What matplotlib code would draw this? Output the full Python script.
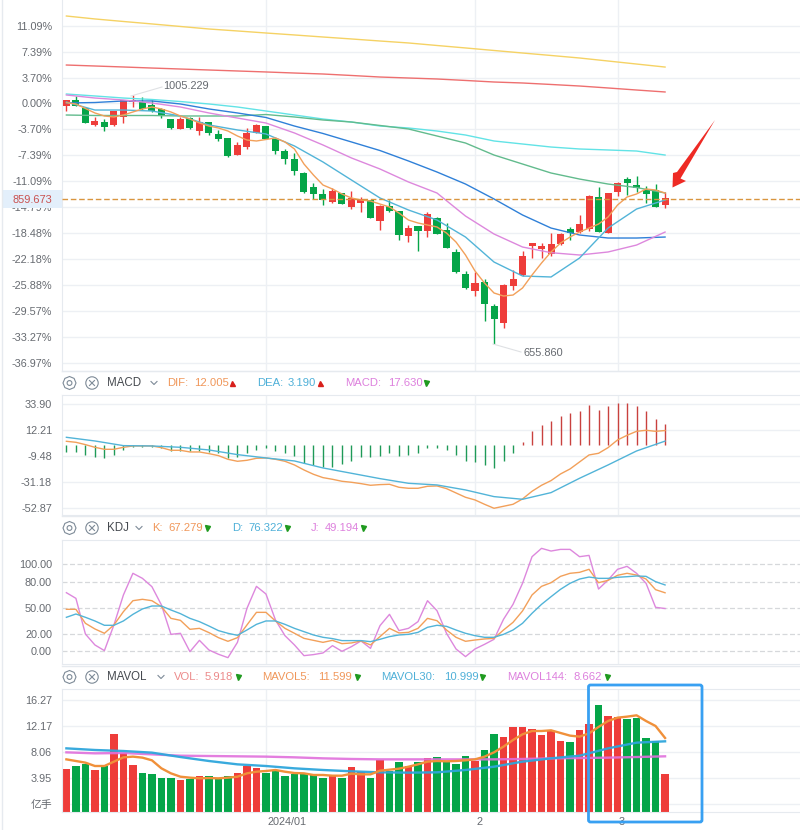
#!/usr/bin/env python3
"""Index candlestick chart with MACD, KDJ and MAVOL panels."""

import matplotlib
matplotlib.use('Agg')
# pylint: disable=wrong-import-position
import matplotlib.pyplot as plt
from matplotlib.patches import Circle, FancyBboxPatch, Polygon, Rectangle, RegularPolygon

plt.rcParams['font.family'] = ['Liberation Sans', 'Noto Sans CJK SC', 'DejaVu Sans']

OPENS = [-.31, .50, -.68, -3.02, -2.64, -3.06, -1.88, .17, .26, -.26, -.83, -2.25, -3.63, -2.07, -3.87, -2.68,
         -4.34, -4.96, -7.29, -6.24, -4.20, -3.21, -5.10, -6.72, -7.91, -9.86, -11.94, -12.89, -13.99, -12.79,
         -14.74, -14.17, -13.75, -16.69, -14.64, -15.27, -18.87, -17.45, -18.12, -16.31, -18.02, -21.20, -24.29,
         -26.67, -25.43, -28.85, -31.23, -26.00, -24.43, -20.30, -20.68, -21.44, -20.01, -17.92, -18.30, -17.92,
         -13.36, -18.40, -12.61, -10.76, -11.61, -12.32, -12.36, -14.42]
CLOSES = [.50, -.31, -2.74, -2.45, -3.35, -1.07, .50, .50, -.78, -1.07, -1.78, -3.53, -2.25, -3.49, -2.68, -4.25,
          -5.06, -7.48, -5.95, -4.16, -3.06, -5.10, -6.72, -7.86, -9.62, -12.61, -12.89, -13.75, -12.46, -14.32,
          -13.50, -13.65, -16.27, -14.60, -15.31, -18.73, -17.73, -18.12, -15.78, -18.59, -20.54, -24.00, -26.28,
          -25.57, -28.52, -30.70, -25.86, -25.00, -21.72, -19.87, -20.30, -20.01, -18.59, -18.49, -17.17, -13.18,
          -18.26, -12.79, -11.37, -11.28, -11.99, -12.85, -14.70, -13.50]
HIGHS = [.50, 1.11, -.68, -1.97, -2.25, -1.07, .50, 1.21, .88, .50, -.68, -2.25, -1.88, -1.88, -1.97, -2.68,
         -3.77, -4.96, -5.53, -3.53, -2.92, -3.21, -4.91, -6.52, -7.09, -9.72, -11.28, -12.18, -12.08, -12.75,
         -12.46, -13.36, -13.75, -14.46, -13.75, -15.27, -17.31, -17.45, -15.46, -16.21, -16.98, -20.77, -23.90,
         -24.00, -25.04, -28.56, -25.71, -23.72, -21.01, -19.87, -19.91, -18.49, -18.40, -17.64, -15.88, -13.08,
         -11.94, -12.79, -11.14, -10.51, -10.33, -11.75, -11.51, -12.65]
LOWS = [-1.03, -.31, -2.74, -3.16, -3.87, -3.16, -2.74, -.46, -.93, -1.25, -2.02, -3.63, -3.63, -3.63, -4.49, -4.49,
        -5.34, -7.58, -7.34, -6.48, -4.25, -5.10, -7.19, -8.62, -10.19, -12.79, -13.65, -14.46, -14.13, -14.32,
        -15.03, -15.41, -16.27, -18.02, -15.46, -19.44, -19.73, -20.97, -18.97, -18.63, -20.54, -24.10, -26.38,
        -27.38, -30.94, -34.26, -31.94, -26.57, -24.53, -21.97, -21.97, -21.68, -20.11, -19.44, -18.49, -18.12,
        -18.26, -18.40, -13.18, -13.03, -12.65, -14.13, -14.70, -14.84]
LAST_PRICE = -13.60

MA5 = [.11, -.07, -.71, -1.35, -1.78, -1.92, -1.64, -1.21, -.78, -.50, -.78, -1.21, -1.78, -2.21, -2.78, -3.21,
       -3.49, -3.92, -4.63, -5.20, -5.34, -5.13, -4.91, -5.48, -6.48, -8.62, -10.19, -11.61, -12.18, -12.89,
       -13.46, -13.75, -13.89, -14.32, -14.74, -15.60, -16.60, -17.02, -17.31, -17.59, -18.45, -19.73, -21.58,
       -23.86, -25.57, -26.99, -27.42, -27.28, -26.28, -24.43, -22.72, -21.15, -19.87, -19.02, -18.30, -17.74,
       -17.17, -16.17, -14.46, -13.32, -12.89, -12.18, -12.32, -12.75]

MA_IDX = list(range(0, 64, 3))
MA10 = [.21, -.93, -.93, -1.07, -1.78, -3.06, -3.77, -4.34, -6.05, -8.33, -10.90, -13.46, -15.17, -16.60,
        -19.02, -22.58, -24.57, -24.71, -22.01, -17.74, -15.03, -13.75]
MA20 = [1.21, .78, .50, .07, -.50, -1.35, -2.07, -2.78, -4.20, -5.91, -7.76, -9.33, -11.18, -12.75, -16.03,
        -18.59, -20.44, -21.25, -21.58, -21.15, -20.16, -18.31]
MA30 = [.07, .14, .36, .36, -.07, -.78, -1.35, -1.99, -3.21, -4.27, -5.48, -6.70, -8.19, -9.76, -11.47, -13.60,
        -15.88, -17.74, -18.73, -19.16, -19.16, -19.02]
MA60 = [-1.64, -1.71, -1.71, -1.71, -1.78, -1.78, -1.78, -1.57, -1.92, -2.35, -2.64, -3.13, -3.63, -4.63, -5.63,
        -7.34, -8.62, -9.90, -10.76, -11.47, -11.97, -12.75]
MA120 = [1.35, 1.07, .78, .57, .28, -.07, -.50, -1.07, -1.64, -2.21, -2.64, -3.21, -3.49, -3.92, -4.49, -5.34,
         -5.77, -6.20, -6.48, -6.62, -6.77, -7.34]
MA250 = [5.48, 5.34, 5.20, 5.05, 4.91, 4.77, 4.63, 4.49, 4.34, 4.20, 3.99, 3.77, 3.63, 3.49, 3.28, 3.06, 2.92,
         2.71, 2.49, 2.21, 1.92, 1.64]
MA500 = [12.46, 12.04, 11.68, 11.33, 10.97, 10.61, 10.33, 10.04, 9.76, 9.47, 9.19, 8.90, 8.62, 8.26, 7.91, 7.55,
         7.19, 6.84, 6.48, 6.05, 5.62, 5.19]

MACD_HIST = [-6.1, -6.1, -8.6, -10.3, -11.1, -8.6, -4.4, -1.9, -1.9, -1.9, -2.8, -5.3, -5.3, -5.3, -5.3, -5.8,
             -7.0, -11.1, -10.3, -7.0, -3.9, -2.8, -4.7, -7.0, -9.5, -15.0, -16.7, -18.3, -18.3, -16.1, -13.6,
             -9.7, -9.7, -8.9, -7.0, -9.5, -8.6, -7.0, -2.8, -2.8, -4.4, -8.6, -13.6, -14.5, -17.0, -19.5, -13.6,
             -7.0, 2.8, 11.7, 16.7, 20.0, 24.2, 26.7, 28.4, 33.4, 29.2, 32.5, 35.0, 35.0, 32.5, 28.4, 21.7, 17.6]
DIF = [3.04, 2.20, .26, -1.97, -3.64, -3.64, -1.97, -.86, -.86, -.86, -2.25, -4.47, -4.47, -5.86, -5.86, -7.25,
       -8.92, -11.98, -13.64, -12.81, -11.14, -10.86, -11.98, -13.64, -16.70, -20.87, -24.49, -27.27, -28.66,
       -30.32, -31.16, -32.27, -33.66, -33.10, -32.83, -35.33, -36.16, -36.16, -34.49, -34.22, -36.44, -40.05,
       -43.67, -45.89, -49.51, -52.84, -51.17, -49.51, -45.06, -38.66, -33.66, -29.77, -24.21, -20.04, -14.20,
       -8.36, -6.97, -2.25, 4.15, 8.04, 11.38, 12.21, 11.38, 12.005]
DEA = [6.37, 3.31, -.58, -.86, -1.97, -4.19, -8.08, -10.86, -13.37, -19.20, -23.65, -28.10, -32.00, -33.38,
       -37.55, -43.11, -45.34, -39.78, -27.82, -16.70, -5.03, 3.19]

KDJ_K = [48.3, 48.3, 32.2, 25.7, 20.7, 30.3, 45.6, 58.2, 59.8, 58.2, 51.3, 37.9, 35.6, 25.3, 26.4, 21.5, 15.7,
         11.5, 15.7, 30.3, 44.8, 44.8, 34.9, 26.4, 20.7, 14.9, 12.6, 10.3, 12.6, 8.8, 9.6, 11.9, 7.3, 16.9, 26.4,
         21.1, 21.8, 26.4, 37.9, 35.2, 24.5, 16.1, 11.5, 13.0, 14.2, 14.9, 24.5, 33.3, 46.4, 64.8, 74.7, 78.9,
         86.2, 89.7, 90.8, 94.3, 78.9, 81.6, 87.4, 89.7, 87.7, 83.1, 70.9, 67.3]
KDJ_D = [39.1, 42.9, 39.1, 34.9, 29.9, 29.9, 34.9, 42.5, 48.7, 52.1, 52.1, 47.5, 43.3, 37.9, 34.1, 29.1, 23.8,
         20.7, 18.4, 24.5, 31.0, 34.9, 34.9, 31.0, 26.4, 22.6, 18.8, 16.1, 14.6, 12.3, 12.3, 12.3, 11.1, 13.8,
         16.9, 18.8, 19.5, 21.8, 27.6, 29.9, 28.7, 24.5, 20.7, 18.0, 16.1, 16.1, 19.5, 24.5, 32.2, 43.7, 54.0,
         62.8, 71.3, 78.2, 83.1, 85.4, 83.9, 83.9, 85.1, 85.8, 86.6, 86.2, 80.1, 76.3]
KDJ_J = [67.4, 60.9, 19.9, 7.3, .8, 30.3, 64.8, 89.7, 83.9, 74.3, 53.3, 19.5, 20.7, -.4, 12.6, 1.5, -3.4, -7.3,
         10.3, 49.4, 74.7, 65.9, 36.0, 18.0, 7.3, -5.0, -3.8, -1.9, 6.5, 0.0, 5.4, 11.9, 3.4, 29.5, 42.5, 23.8,
         26.4, 34.1, 58.2, 46.7, 20.7, 2.7, -6.1, 2.7, 8.0, 13.8, 36.8, 54.0, 78.2, 108.8, 118.4, 115.3, 117.2,
         117.2, 108.8, 110.3, 71.6, 82.0, 94.3, 97.7, 89.7, 78.2, 50.6, 49.2]

VOLUME = [5.48, 5.85, 6.16, 5.21, 5.90, 10.91, 7.90, 6.01, 4.74, 4.58, 3.95, 4.06, 3.63, 3.79, 4.27, 4.27, 3.79,
          4.27, 4.74, 5.95, 5.64, 4.85, 5.11, 4.27, 4.58, 4.74, 4.58, 3.95, 4.27, 3.95, 5.69, 4.90, 3.95, 6.85,
          5.16, 6.59, 5.90, 6.59, 7.11, 7.27, 6.59, 6.16, 7.43, 6.74, 8.38, 10.91, 10.54, 12.01, 12.01, 11.70,
          10.75, 11.38, 9.80, 9.64, 11.54, 12.49, 15.49, 13.75, 13.59, 13.28, 13.44, 10.27, 9.80, 4.58]
MAVOL5 = [6.95, 6.69, 6.43, 5.90, 5.90, 6.59, 7.27, 7.38, 7.22, 6.80, 5.53, 4.74, 4.21, 4.06, 3.95, 4.00, 3.95,
          4.06, 4.21, 4.74, 5.00, 5.11, 5.27, 5.00, 4.79, 4.74, 4.48, 4.48, 4.37, 4.37, 4.69, 4.58, 4.58, 5.16,
          5.32, 5.48, 5.79, 6.16, 6.59, 6.69, 6.64, 6.69, 6.80, 6.95, 7.38, 8.06, 8.96, 10.01, 10.91, 11.43,
          11.43, 11.54, 11.12, 10.70, 10.54, 11.06, 12.07, 13.01, 13.54, 13.70, 13.91, 13.01, 12.22, 10.33]
MAVOL30 = [8.69, 8.43, 8.27, 8.01, 7.32, 6.69, 6.16, 5.90, 5.53, 5.27, 5.06, 4.90, 4.85, 4.90, 5.27, 5.79, 6.59,
           7.11, 7.53, 8.69, 9.59, 9.80]
MAVOL144 = [8.06, 7.90, 7.95, 7.74, 7.53, 7.48, 7.43, 7.38, 7.27, 7.11, 7.01, 6.95, 6.95, 6.95, 6.95, 6.95, 7.01,
            7.11, 7.16, 7.22, 7.32, 7.43]

PRICE_TICKS = [11.09, 7.39, 3.70, 0.00, -3.70, -7.39, -11.09, -14.79, -18.48, -22.18, -25.88, -29.57, -33.27,
               -36.97]
MACD_TICKS = [33.90, 12.21, -9.48, -31.18, -52.87]
KDJ_TICKS = [100.00, 80.00, 50.00, 20.00, 0.00]
VOL_TICKS = [16.27, 12.17, 8.06, 3.95, -0.16]
VOL_TICK_LABELS = ['16.27', '12.17', '8.06', '3.95', '亿手']
MONTH_IDX = [21, 43, 58]
MONTH_LABELS = ['2024/01', '2', '3']

RED = '#ee3d3a'
GREEN = '#05a548'
ORANGE = '#f2a05a'
SKY = '#52b4d8'
PINK = '#dd88dd'
GRID = '#edf0f4'
EDGE = '#e6eaef'
TEXT = '#666a70'
WIDTH = 800
HEIGHT = 830
XLIM = (-0.463, 77.2)


def add_panel(figure, top, bottom, ylim, ticks, labels):
    """Adds one panel, placed by its pixel rows."""
    axis = figure.add_axes([62 / WIDTH, 1 - bottom / HEIGHT, (WIDTH - 62) / WIDTH, (bottom - top) / HEIGHT])
    axis.set_xlim(*XLIM)
    axis.set_ylim(*ylim)
    axis.set_yticks(ticks)
    axis.set_yticklabels(labels, fontsize=7.8, color=TEXT)
    axis.tick_params(axis='y', length=0, pad=7.2)
    axis.set_xticks(MONTH_IDX)
    axis.tick_params(axis='x', length=0, labelbottom=False)
    axis.grid(True, color=GRID, linewidth=1.0)
    axis.set_axisbelow(True)
    for side in axis.spines.values():
        side.set_color(EDGE)
    axis.spines['right'].set_visible(False)
    return axis


def draw_header(over, row, name, name_x, chevron_x, items):
    """Writes the settings icons, indicator name and its value read-outs."""
    over.add_patch(RegularPolygon((69.5, row), 8, radius=6.5, fill=False, edgecolor='#7d8a97', linewidth=0.8))
    over.add_patch(Circle((69.5, row), 2.4, fill=False, edgecolor='#7d8a97', linewidth=0.8))
    over.add_patch(Circle((92, row), 6.2, fill=False, edgecolor='#7d8a97', linewidth=0.8))
    over.plot([89.5, 94.5], [row - 2.5, row + 2.5], color='#7d8a97', linewidth=0.8)
    over.plot([89.5, 94.5], [row + 2.5, row - 2.5], color='#7d8a97', linewidth=0.8)
    over.text(name_x, row, name, fontsize=8.3, color='#45494f', va='center')
    over.plot([chevron_x - 3, chevron_x, chevron_x + 3], [row - 1.5, row + 1.5, row - 1.5],
              color='#7d8a97', linewidth=0.8)
    for label, label_x, value, value_x, marker_x, rising, color in items:
        over.text(label_x, row, label, fontsize=8.1, color=color, va='center')
        over.text(value_x, row, value, fontsize=8.1, color=color, va='center')
        over.plot([marker_x], [row], marker='^' if rising else 'v', markersize=3.6, linestyle='none',
                  color='#d8201c' if rising else '#1f9a1f')


def main():
    """Builds the four panels and the overlay, then saves the picture."""
    figure = plt.figure(figsize=(WIDTH / 100, HEIGHT / 100), dpi=100)
    xs = list(range(len(OPENS)))
    colors = [RED if c >= o else GREEN for o, c in zip(OPENS, CLOSES)]

    # price panel
    main_ax = add_panel(figure, 0, 371, (-38.1, 14.74), PRICE_TICKS, ['%.2f%%' % t for t in PRICE_TICKS])
    main_ax.spines['top'].set_visible(False)
    main_ax.vlines(xs, LOWS, HIGHS, colors=colors, linewidth=1.0, zorder=3)
    main_ax.bar(xs, [abs(c - o) for o, c in zip(OPENS, CLOSES)], bottom=[min(o, c) for o, c in zip(OPENS, CLOSES)],
                width=0.74, color=colors, zorder=3)
    for values, color in ((MA500, '#f5d264'), (MA250, '#ee6f6f'), (MA120, '#62e3e6'), (MA60, '#62bb8d'),
                          (MA30, '#2f80d8'), (MA20, PINK), (MA10, SKY)):
        main_ax.plot(MA_IDX, values, color=color, linewidth=1.0, zorder=4)
    main_ax.plot(xs, MA5, color=ORANGE, linewidth=1.0, zorder=4)
    main_ax.axhline(LAST_PRICE, color='#d9953f', linewidth=1.0, linestyle=(0, (4, 2)), zorder=5)

    # MACD panel
    macd_ax = add_panel(figure, 395, 515, (-58.45, 41.66), MACD_TICKS, ['%.2f' % t for t in MACD_TICKS])
    macd_ax.vlines(xs, 0, MACD_HIST, colors=['#c9413e' if v > 0 else '#1f9a58' for v in MACD_HIST], linewidth=1.0)
    macd_ax.plot(xs, DIF, color=ORANGE, linewidth=1.0)
    macd_ax.plot(MA_IDX, DEA, color=SKY, linewidth=1.0)

    # KDJ panel
    kdj_ax = add_panel(figure, 540, 664, (-14.6, 128.0), KDJ_TICKS, ['%.2f' % t for t in KDJ_TICKS])
    kdj_ax.grid(False, axis='y')
    for tick in KDJ_TICKS:
        kdj_ax.axhline(tick, color='#d6d8db', linewidth=0.9, linestyle=(0, (4, 2)), zorder=1)
    kdj_ax.plot(xs, KDJ_J, color=PINK, linewidth=1.0)
    kdj_ax.plot(xs, KDJ_K, color=ORANGE, linewidth=1.0)
    kdj_ax.plot(xs, KDJ_D, color=SKY, linewidth=1.0)

    # volume panel, the bars stand on the bottom edge rather than on zero
    vol_floor = -1.37
    vol_ax = add_panel(figure, 689, 812, (vol_floor, 18.07), VOL_TICKS, VOL_TICK_LABELS)
    vol_ax.bar(xs, [v - vol_floor for v in VOLUME], bottom=vol_floor, width=0.76, color=colors, zorder=2)
    vol_ax.plot(MA_IDX, MAVOL144, color='#e070dc', linewidth=1.7, alpha=0.9, zorder=3)
    vol_ax.plot(MA_IDX, MAVOL30, color='#2ea6dc', linewidth=1.7, alpha=0.95, zorder=3)
    vol_ax.plot(xs, MAVOL5, color='#f0903a', linewidth=1.7, zorder=4)
    for idx, label in zip(MONTH_IDX, MONTH_LABELS):
        vol_ax.annotate(label, xy=(idx, 0), xycoords=('data', 'axes fraction'), xytext=(1, -7),
                        textcoords='offset points', fontsize=7.8, color=TEXT, va='center', ha='left',
                        annotation_clip=False)

    # overlay in pixel rows for read-outs, callouts and hand-drawn marks
    over = figure.add_axes([0, 0, 1, 1], zorder=10)
    over.set_xlim(0, WIDTH)
    over.set_ylim(HEIGHT, 0)
    over.axis('off')
    over.plot([2, 2], [0, HEIGHT], color=EDGE, linewidth=1.0)
    over.plot([62, WIDTH], [371, 371], color=EDGE, linewidth=1.0)
    over.plot([62, WIDTH], [516, 516], color=EDGE, linewidth=1.0)
    over.plot([62, WIDTH], [666, 666], color=EDGE, linewidth=1.0)

    over.add_patch(Rectangle((3, 190), 59, 18, facecolor='#e3effb', edgecolor='none'))
    over.text(52, 199.5, '859.673', fontsize=7.9, color='#c9504f', ha='right', va='center')

    over.plot([131, 162], [96, 87], color='#dfe1e4', linewidth=0.8)
    over.text(163, 86, '1005.229', fontsize=7.9, color=TEXT, va='center')
    over.plot([493, 521], [344, 352], color='#dfe1e4', linewidth=0.8)
    over.text(523, 353, '655.860', fontsize=7.9, color=TEXT, va='center')

    draw_header(over, 383, 'MACD', 106.5, 154, [
        ('DIF:', 167, '12.005', 194, 232, True, '#f0975a'),
        ('DEA:', 257, '3.190', 288, 320, True, '#4fb0d8'),
        ('MACD:', 345, '17.630', 388, 426, False, '#dd80dd')])
    draw_header(over, 528, 'KDJ', 106.5, 139, [
        ('K:', 152, '67.279', 168, 207, False, '#f0975a'),
        ('D:', 232, '76.322', 248, 287, False, '#4fb0d8'),
        ('J:', 311, '49.194', 325, 363, False, '#dd80dd')])
    draw_header(over, 677, 'MAVOL', 106.5, 161, [
        ('VOL:', 174, '5.918', 205, 238, False, '#ec8a8a'),
        ('MAVOL5:', 262, '11.599', 318, 357, False, '#f0975a'),
        ('MAVOL30:', 381, '10.999', 444, 482, False, '#4fb0d8'),
        ('MAVOL144:', 507, '8.662', 574, 607, False, '#dd80dd')])

    over.add_patch(FancyBboxPatch((588.5, 685), 113.5, 137, boxstyle='round,pad=0,rounding_size=2',
                                  fill=False, edgecolor='#38a0f2', linewidth=2.0))
    over.add_patch(Polygon([(672.5, 187.5), (686, 181), (680.5, 178.5), (715, 120), (677, 172), (673, 173)],
                           closed=True, facecolor='#ee2a24', edgecolor='none'))

    figure.savefig('out.png', dpi=100)


if __name__ == '__main__':
    main()
